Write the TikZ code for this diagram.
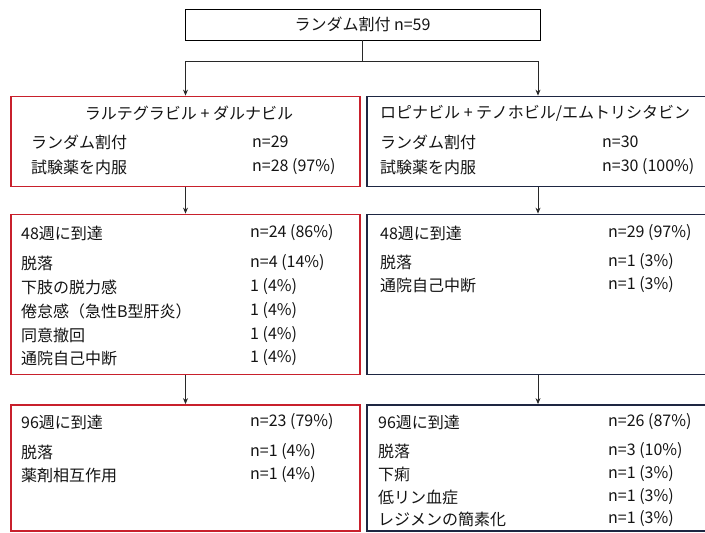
\documentclass[tikz,border=0pt]{standalone}
\usepackage{fontspec}
\setmainfont{Noto Sans CJK JP}
\usetikzlibrary{arrows.meta}
\definecolor{boxred}{RGB}{200,32,44}
\definecolor{boxnavy}{RGB}{30,38,66}
\definecolor{linegray}{RGB}{40,40,40}
\tikzset{
  topbox/.style={draw=black, line width=0.9pt, inner sep=0pt},
  redbox/.style={draw=boxred, line width=1.8pt, inner sep=0pt},
  navybox/.style={draw=boxnavy, line width=1.8pt, inner sep=0pt},
  lbl/.style={anchor=west, inner sep=0pt, text=black!92},
  ttl/.style={anchor=center, inner sep=0pt, text=black!92},
  conn/.style={draw=linegray, line width=0.8pt},
  arr/.style={conn, -{Stealth[length=6pt,width=5pt]}},
}
\begin{document}
\begin{tikzpicture}[x=1pt,y=-1pt, font=\fontsize{16}{19}\selectfont]
\useasboundingbox (0,0) rectangle (705,533);
% boxes
\node[topbox, minimum width=355pt, minimum height=31pt] (top) at (362.5,24.5) {};
\node[redbox, minimum width=349pt, minimum height=90pt] (L1) at (185.5,141.5) {};
\node[navybox, minimum width=342pt, minimum height=90pt] (R1) at (538,141.5) {};
\node[redbox, minimum width=349pt, minimum height=160pt] (L2) at (185.5,294.5) {};
\node[navybox, minimum width=342pt, minimum height=160pt] (R2) at (538,294.5) {};
\node[redbox, minimum width=349pt, minimum height=126pt] (L3) at (185.5,468) {};
\node[navybox, minimum width=342pt, minimum height=126pt] (R3) at (538,468) {};
% connectors
\coordinate (j) at (362.5,61);
\draw[conn] (top.south) -- (j);
\draw[arr] (j) -| (L1.north);
\draw[arr] (j) -| (R1.north);
\draw[arr] (L1.south) -- (L2.north);
\draw[arr] (R1.south) -- (R2.north);
\draw[arr] (L2.south) -- (L3.north);
\draw[arr] (R2.south) -- (R3.north);
% top text
\node[ttl] (t0) at (362.5,24.5) {ランダム割付 n=59};
% left box 1
\node[ttl] (l1t) at (189,113) {ラルテグラビル + ダルナビル};
\node[lbl] (l1a) at (31,142) {ランダム割付};
\node[lbl] (l1av) at (252,142) {n=29};
\node[lbl] (l1b) at (31,167) {試験薬を内服};
\node[lbl] (l1bv) at (252,167) {n=28 (97\%)};
% right box 1
\node[lbl] (r1t) at (380,113) {ロピナビル + テノホビル/エムトリシタビン};
\node[lbl] (r1a) at (380,142) {ランダム割付};
\node[lbl] (r1av) at (602,142) {n=30};
\node[lbl] (r1b) at (380,167) {試験薬を内服};
\node[lbl] (r1bv) at (602,167) {n=30 (100\%)};
% left box 2
\node[lbl] (l2a) at (21,233) {48週に到達};
\node[lbl] (l2av) at (250,233) {n=24 (86\%)};
\node[lbl] (l2b) at (21,263) {脱落};
\node[lbl] (l2bv) at (250,263) {n=4 (14\%)};
\node[lbl] (l2c) at (21,287) {下肢の脱力感};
\node[lbl] (l2cv) at (250,287) {1 (4\%)};
\node[lbl] (l2d) at (21,311) {倦怠感（急性B型肝炎）};
\node[lbl] (l2dv) at (250,311) {1 (4\%)};
\node[lbl] (l2e) at (21,335) {同意撤回};
\node[lbl] (l2ev) at (250,335) {1 (4\%)};
\node[lbl] (l2f) at (21,358) {通院自己中断};
\node[lbl] (l2fv) at (250,358) {1 (4\%)};
% right box 2
\node[lbl] (r2a) at (380,233) {48週に到達};
\node[lbl] (r2av) at (608,233) {n=29 (97\%)};
\node[lbl] (r2b) at (380,262) {脱落};
\node[lbl] (r2bv) at (608,262) {n=1 (3\%)};
\node[lbl] (r2c) at (380,285) {通院自己中断};
\node[lbl] (r2cv) at (608,285) {n=1 (3\%)};
% left box 3
\node[lbl] (l3a) at (21,422) {96週に到達};
\node[lbl] (l3av) at (250,422) {n=23 (79\%)};
\node[lbl] (l3b) at (21,452) {脱落};
\node[lbl] (l3bv) at (250,452) {n=1 (4\%)};
\node[lbl] (l3c) at (21,475) {薬剤相互作用};
\node[lbl] (l3cv) at (250,475) {n=1 (4\%)};
% right box 3
\node[lbl] (r3a) at (378,422) {96週に到達};
\node[lbl] (r3av) at (608,422) {n=26 (87\%)};
\node[lbl] (r3b) at (378,451) {脱落};
\node[lbl] (r3bv) at (608,451) {n=3 (10\%)};
\node[lbl] (r3c) at (378,474) {下痢};
\node[lbl] (r3cv) at (608,474) {n=1 (3\%)};
\node[lbl] (r3d) at (378,497) {低リン血症};
\node[lbl] (r3dv) at (608,497) {n=1 (3\%)};
\node[lbl] (r3e) at (378,519) {レジメンの簡素化};
\node[lbl] (r3ev) at (608,519) {n=1 (3\%)};
\end{tikzpicture}
\end{document}
